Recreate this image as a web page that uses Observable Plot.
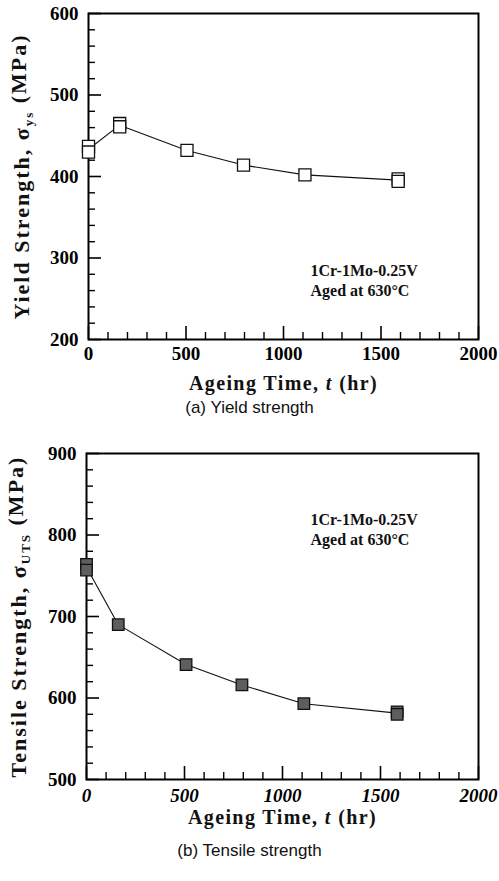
<!DOCTYPE html>
<html>
<head>
<meta charset="utf-8">
<script src="https://cdn.jsdelivr.net/npm/d3@7"></script>
<script src="https://cdn.jsdelivr.net/npm/@observablehq/plot@0.6"></script>
<style>
  html, body { margin: 0; padding: 0; background: #fff; }
  #wrap { width: 499px; }
  .cap { width: 499px; text-align: center; font-family: "Liberation Sans", Arial, sans-serif; font-size: 17px; color: #111; }
  svg { display: block; }
</style>
</head>
<body>
<div id="wrap"></div>
<script>
// ---- data ----
const timeYield = [0, 0, 160, 160, 505, 795, 1110, 1588, 1588];
const yieldStrength = [437, 430, 465, 461, 432, 414, 402, 397, 394];
const timeTensile = [0, 0, 162, 508, 793, 1109, 1585, 1585];
const tensileStrength = [764, 757, 690, 641, 616, 593, 583, 580];
const xTicks = [0, 500, 1000, 1500, 2000];
const yTicksYield = [200, 300, 400, 500, 600];
const yTicksTensile = [500, 600, 700, 800, 900];
const annotationLines = ["1Cr-1Mo-0.25V", "Aged at 630°C"];
const captions = ["(a) Yield strength", "(b) Tensile strength"];

const W = 499;
const serif = "'Liberation Serif', 'Times New Roman', serif";

function makeChart(o) {
  const data = o.times.map((t, i) => ({t, v: o.values[i]}));
  const lineData = d3.rollups(data, g => d3.mean(g, d => d.v), d => d.t)
    .map(([t, v]) => ({t, v})).sort((a, b) => a.t - b.t);
  const frameW = W - o.marginLeft - o.marginRight;
  const frameH = o.height - o.marginTop - o.marginBottom;
  const [y0, y1] = o.yDomain;
  const yMinor = d3.range(y0, y1 + 1, 20).filter(v => !o.yTicks.includes(v));
  const xMinor = d3.range(0, 2001, 100).filter(v => !xTicks.includes(v));
  const xTitle = "XTITLE";
  const yTitle = "YTITLE";

  const svg = Plot.plot({
    width: W,
    height: o.height,
    marginLeft: o.marginLeft,
    marginRight: o.marginRight,
    marginTop: o.marginTop,
    marginBottom: o.marginBottom,
    style: {fontFamily: serif, fontSize: "19px", fontWeight: "bold", color: "#000", background: "#fff", overflow: "visible"},
    x: {domain: [0, 2000]},
    y: {domain: o.yDomain},
    marks: [
      Plot.axisX({ticks: xTicks, tickSize: 0, tickPadding: o.xPad, label: null, fontStyle: o.xItalic ? "italic" : "normal", tickFormat: d => String(d)}),
      Plot.axisY({ticks: o.yTicks, tickSize: 0, tickPadding: 10, label: null, tickFormat: d => String(d)}),
      Plot.tickY(o.yTicks, {y: d => d, insetRight: frameW - 13, stroke: "#000", strokeWidth: 1.6}),
      Plot.tickY(yMinor, {y: d => d, insetRight: frameW - 7, stroke: "#000", strokeWidth: 1.4}),
      Plot.tickX(xTicks, {x: d => d, insetTop: frameH - 13, stroke: "#000", strokeWidth: 1.6}),
      Plot.tickX(xMinor, {x: d => d, insetTop: frameH - 7, stroke: "#000", strokeWidth: 1.4}),
      Plot.frame({stroke: "#000", strokeWidth: 2}),
      Plot.line(lineData, {x: "t", y: "v", curve: "linear", stroke: "#111", strokeWidth: 1.1}),
      Plot.dot(data, {x: "t", y: "v", symbol: "square", r: o.r, fill: o.fill, stroke: "#111", strokeWidth: 1.3}),
      Plot.text([annotationLines.join("\n")], {frameAnchor: o.annotAnchor, dx: o.annotDx, dy: o.annotDy, textAnchor: "start", lineAnchor: "middle", lineHeight: 1.22, fontSize: 16, fontWeight: "bold", fill: "#111"}),
      Plot.text([xTitle], {frameAnchor: "bottom", dy: o.xTitleDy, textAnchor: "middle", lineAnchor: "middle", fontSize: 20, fontWeight: "bold", fill: "#111"}),
      Plot.text([yTitle], {frameAnchor: "left", dx: o.yTitleDx, rotate: -90, textAnchor: "middle", lineAnchor: "middle", fontSize: 22, fontWeight: "bold", fill: "#111"})
    ]
  });

  const s = d3.select(svg);
  s.selectAll("text").filter(function () { return this.textContent === xTitle; }).each(function () {
    const t = d3.select(this).style("letter-spacing", "1.4px");
    t.text(null);
    t.append("tspan").text("Ageing Time, ");
    t.append("tspan").style("font-style", "italic").text("t");
    t.append("tspan").text(" (hr)");
  });
  s.selectAll("text").filter(function () { return this.textContent === yTitle; }).each(function () {
    const t = d3.select(this).style("letter-spacing", "2px").attr("text-anchor", "middle");
    t.text(null);
    t.append("tspan").text(o.yMain);
    t.append("tspan").attr("dy", "0.32em").style("font-size", "13px").text(o.ySub);
    t.append("tspan").attr("dy", "-0.32em").text(" (MPa)");
  });
  return svg;
}

const wrap = document.getElementById("wrap");

wrap.appendChild(makeChart({
  height: 397, marginTop: 13, marginBottom: 58, marginLeft: 88, marginRight: 21,
  times: timeYield, values: yieldStrength, yDomain: [200, 600], yTicks: yTicksYield,
  fill: "#fff", r: 6.8, xItalic: false, xPad: 7,
  annotAnchor: "bottom-left", annotDx: 222, annotDy: -60,
  xTitleDy: 44, yTitleDx: -67, yMain: "Yield Strength, σ", ySub: "ys"
}));
const c1 = document.createElement("div");
c1.className = "cap"; c1.style.height = "22px"; c1.style.lineHeight = "22px";
c1.textContent = captions[0];
wrap.appendChild(c1);

wrap.appendChild(makeChart({
  height: 420, marginTop: 34, marginBottom: 60, marginLeft: 86, marginRight: 21,
  times: timeTensile, values: tensileStrength, yDomain: [500, 900], yTicks: yTicksTensile,
  fill: "#5e5e5e", r: 6.5, xItalic: true, xPad: 9,
  annotAnchor: "top-left", annotDx: 224, annotDy: 75,
  xTitleDy: 38, yTitleDx: -68, yMain: "Tensile Strength, σ", ySub: "UTS"
}));
const c2 = document.createElement("div");
c2.className = "cap"; c2.style.height = "24px"; c2.style.lineHeight = "24px";
c2.textContent = captions[1];
wrap.appendChild(c2);
</script>
</body>
</html>
